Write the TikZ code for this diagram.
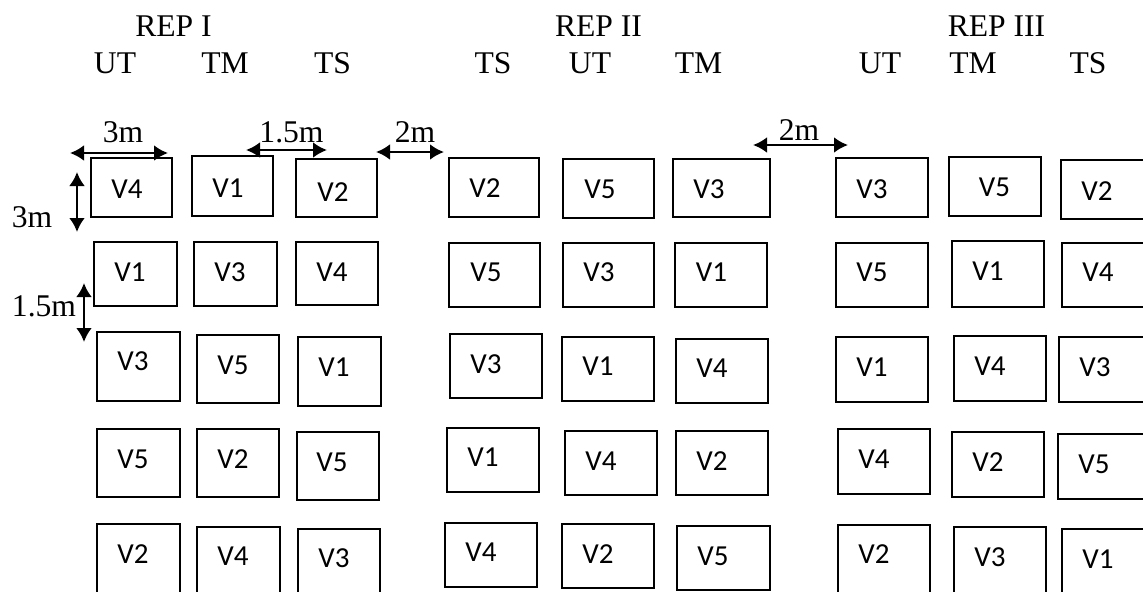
\documentclass[tikz,border=0pt]{standalone}
\usepackage{fontspec}
\setmainfont{Liberation Serif}
\newfontfamily\plotfont{Carlito}
\usetikzlibrary{arrows.meta}
\tikzset{
  plotbox/.style={draw, line width=1pt},
  plotlab/.style={font=\plotfont\fontsize{14.5}{17}\selectfont, inner sep=0pt},
  head/.style={font=\fontsize{15.8}{18}\selectfont, inner sep=0pt, anchor=base},
  dimarrow/.style={line width=1.4pt, {Latex[length=7pt,width=8pt]}-{Latex[length=7pt,width=8pt]}},
}
\begin{document}
\begin{tikzpicture}[x=0.5pt,y=-0.5pt]
\useasboundingbox (0,0) rectangle (1143,591);
\clip (0,0) rectangle (1143,591);

% replicate and treatment headings
\foreach \n/\cx/\by/\t in {r1/173.5/36/REP I, r1ut/115/73/UT, r1tm/225/73/TM, r1ts/332.5/73/TS,
    r2/598.5/36/REP II, r2ts/493/73/TS, r2ut/590/73/UT, r2tm/698.5/73/TM,
    r3/996.5/36/REP III, r3ut/880/73/UT, r3tm/973/73/TM, r3ts/1088/73/TS}
  \node[head] (\n) at (\cx,\by) {\t};

% plots: corners, label centre, variety
\foreach \x/\y/\X/\Y/\lx/\ly/\v [count=\i] in {
  91/158/172/217/127/189.5/V4, 192/156/273/216/228/188/V1, 296/159/377/217/333/192/V2,
  94/242/177/306/130/272/V1, 194/242/277/306/230/272/V3, 296/242/378/305/332/272/V4,
  97/332/180/401/133/361/V3, 197/335/279/403/233/365/V5, 298/337/381/406/334/367.5/V1,
  97/429/180/497/133/459/V5, 197/429/279/497/233/459/V2, 297/432/379/500/332/462/V5,
  97/524/180/600/133/554/V2, 197/527/280/600/233/556/V4, 298/529/380/600/334/558/V3,
  449/158/539/217/485/188/V2, 563/159/654/218/600/189/V5, 673/159/770/217/709/189/V3,
  449/243/540/307/486/272/V5, 563/243/654/307/599/272/V3, 675/243/767/307/711.5/272/V1,
  450/334/542/398/486/364/V3, 562/337/654/401/598/366.5/V1, 676/339/768/403/712/368.5/V4,
  447/428/539/492/483/457/V1, 565/431/657/495/601/461/V4, 676/431/768/495/712/461/V2,
  445/523/537/587/481/552/V4, 562/524/654/588/598/554/V2, 677/526/770/590/713/556/V5,
  836/158/928/217/872/189/V3, 949/157/1041/216/994.5/187.5/V5, 1061/160/1160/219/1097/191/V2,
  836/243/928/307/872/272/V5, 952/241/1044/307/988/271/V1, 1062/243/1160/307/1098/272/V4,
  836/337/928/402/872/367/V1, 954/336/1046/401/990/366/V4, 1059/337/1160/402/1095/367.5/V3,
  838/429/930/494/874/459/V4, 952/432/1044/497/988/462.5/V2, 1058/434/1160/499/1094/464/V5,
  838/525/930/600/874/554/V2, 954/527/1046/600/990/557.5/V3, 1062/529/1160/600/1098/559/V1}
{
  \draw[plotbox] (\x,\y) rectangle (\X,\Y);
  \node[plotlab] (plot\i) at (\lx,\ly) {\v};
}

% dimension arrows
\coordinate (w1a) at (70,153);  \coordinate (w1b) at (168,153);
\coordinate (w2a) at (246,150); \coordinate (w2b) at (327,150);
\coordinate (w3a) at (376,152); \coordinate (w3b) at (444,152);
\coordinate (w4a) at (753,145); \coordinate (w4b) at (848,145);
\coordinate (h1a) at (77,172);  \coordinate (h1b) at (77,232);
\coordinate (h2a) at (84,283);  \coordinate (h2b) at (84,342);
\draw[dimarrow] (w1a) -- (w1b);
\draw[dimarrow] (w2a) -- (w2b);
\draw[dimarrow] (w3a) -- (w3b);
\draw[dimarrow] (w4a) -- (w4b);
\draw[dimarrow] (h1a) -- (h1b);
\draw[dimarrow] (h2a) -- (h2b);

% dimension labels
\node[head] (d1) at (123,142) {3m};
\node[head] (d2) at (291.5,142) {1.5m};
\node[head] (d3) at (415,142) {2m};
\node[head] (d4) at (799,140) {2m};
\node[head] (d5) at (32,227) {3m};
\node[head] (d6) at (44,316) {1.5m};
\end{tikzpicture}
\end{document}
